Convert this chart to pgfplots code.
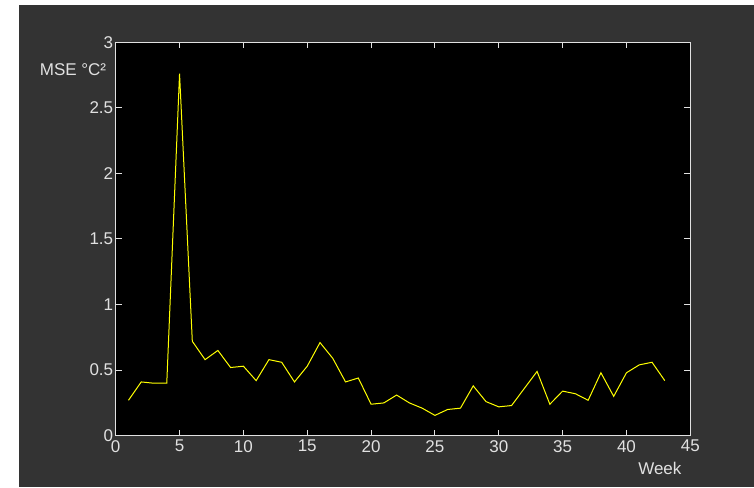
\documentclass[border=0pt]{standalone}
\usepackage{pgfplots}
\pgfplotsset{compat=1.18}
\usepackage{fontspec}
\setmainfont{Liberation Sans}
\definecolor{bggray}{RGB}{51,51,51}
\definecolor{axgray}{RGB}{225,225,225}
\definecolor{myyellow}{RGB}{255,255,0}
\begin{document}
\begin{tikzpicture}[x=1pt,y=1pt]
\fill[white] (0,0) rectangle (754,487);
\fill[bggray] (19,0) rectangle (754,482);
\begin{axis}[
  at={(115.7pt,51.3pt)}, anchor=south west,
  scale only axis, width=574.6pt, height=393.4pt,
  xmin=0, xmax=45, ymin=0, ymax=3,
  xtick={0,5,...,45}, ytick={0,0.5,1,1.5,2,2.5,3},
  axis background/.style={fill=black},
  axis line style={axgray, line width=1.4pt},
  tick style={axgray, line width=1pt},
  major tick length=6pt,
  tick align=inside,
  tick label style={text=axgray, font=\fontsize{17}{20}\selectfont},
  /pgf/number format/assume math mode=true,
  xticklabel style={yshift=-1pt},
  yticklabel style={xshift=1pt},
  xlabel={Week}, ylabel={MSE °C²},
  label style={text=axgray, font=\fontsize{17}{20}\selectfont},
  xlabel style={at={(axis description cs:0.947,-0.082)}, anchor=center},
  ylabel style={at={(axis description cs:-0.0743,0.9296)}, anchor=center, rotate=-90},
]
\addplot[myyellow, line width=1pt, mark=none] coordinates {
(1,0.27) (2,0.41) (3,0.40) (4,0.40) (5,2.76) (6,0.72) (7,0.58) (8,0.65)
(9,0.52) (10,0.53) (11,0.42) (12,0.58) (13,0.56) (14,0.41) (15,0.53)
(16,0.71) (17,0.59) (18,0.41) (19,0.44) (20,0.24) (21,0.25) (22,0.31)
(23,0.25) (24,0.21) (25,0.155) (26,0.20) (27,0.21) (28,0.38) (29,0.26)
(30,0.22) (31,0.23) (32,0.36) (33,0.49) (34,0.24) (35,0.34) (36,0.32)
(37,0.27) (38,0.48) (39,0.30) (40,0.48) (41,0.54) (42,0.56) (43,0.42)
};
\end{axis}
\end{tikzpicture}
\end{document}
